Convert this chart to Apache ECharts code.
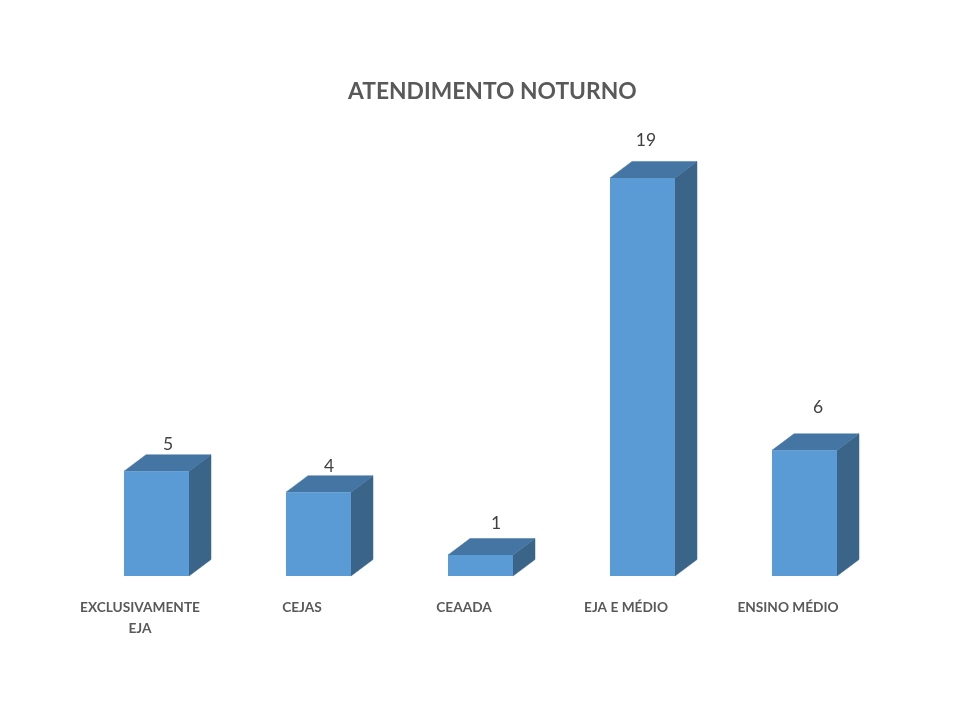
<!DOCTYPE html>
<html>
<head>
<meta charset="utf-8">
<style>html,body{margin:0;padding:0;background:#fff}#c{width:960px;height:720px}</style>
<script src="https://cdn.jsdelivr.net/npm/echarts@6/dist/echarts.min.js"></script>
</head>
<body>
<div id="c"></div>
<script>
var categories = ['EXCLUSIVAMENTE\nEJA', 'CEJAS', 'CEAADA', 'EJA E MÉDIO', 'ENSINO MÉDIO'];
var values = [5, 4, 1, 19, 6];
var titleText = 'ATENDIMENTO NOTURNO';

// Drawing-only settings (pixels): the 3D floor sits to the right of the axis labels.
var barShift = 16.5, barWidth = 65, depthX = 22, depthY = 16.5;
var labelNudgeX = [11.5, 10.5, 15.5, 3.5, 13.5];
var labelNudgeY = [-10, -9, -15, -21, -26];

var chart = echarts.init(document.getElementById('c'), null, {renderer: 'canvas'});

function renderBar(params, api) {
  var i = api.value(0), v = api.value(1);
  var top = api.coord([i, v]), base = api.coord([i, 0]);
  var cx = top[0] + barShift;
  var l = cx - barWidth / 2, r = cx + barWidth / 2, t = top[1], b = base[1];
  return {
    type: 'group',
    children: [
      {type: 'polygon', shape: {points: [[r, t], [r + depthX, t - depthY], [r + depthX, b - depthY], [r, b]]}, style: {fill: '#3b6489', stroke: '#3b6489', lineWidth: 0.5}},
      {type: 'polygon', shape: {points: [[l, t], [l + depthX, t - depthY], [r + depthX, t - depthY], [r, t]]}, style: {fill: '#4576a3', stroke: '#4576a3', lineWidth: 0.5}},
      {type: 'rect', shape: {x: l, y: t, width: barWidth, height: b - t}, style: {fill: '#5b9bd5'}},
      {type: 'text', style: {
        text: String(v),
        x: cx + labelNudgeX[i],
        y: t - depthY + labelNudgeY[i],
        align: 'center', verticalAlign: 'middle',
        font: '17.5px Lato', fill: '#404040'
      }}
    ]
  };
}

chart.setOption({
  animation: false,
  backgroundColor: '#ffffff',
  title: {
    text: titleText, left: 348, top: 80,
    textStyle: {fontFamily: 'Lato', fontSize: 22.8, fontWeight: 'bold', color: '#595959'},
    padding: 0
  },
  grid: {left: 59, width: 810, top: 157, height: 419},
  xAxis: {
    type: 'category', data: categories,
    axisLine: {show: false}, axisTick: {show: false},
    axisLabel: {
      interval: 0, margin: 21, lineHeight: 21,
      fontFamily: 'Lato', fontSize: 13.7, fontWeight: 'bold', color: '#595959'
    }
  },
  yAxis: {type: 'value', min: 0, max: 20, show: false},
  series: [{
    type: 'custom',
    renderItem: renderBar,
    encode: {x: 0, y: 1},
    data: values.map(function (v, i) { return [i, v]; }),
    clip: false
  }]
});
</script>
</body>
</html>
